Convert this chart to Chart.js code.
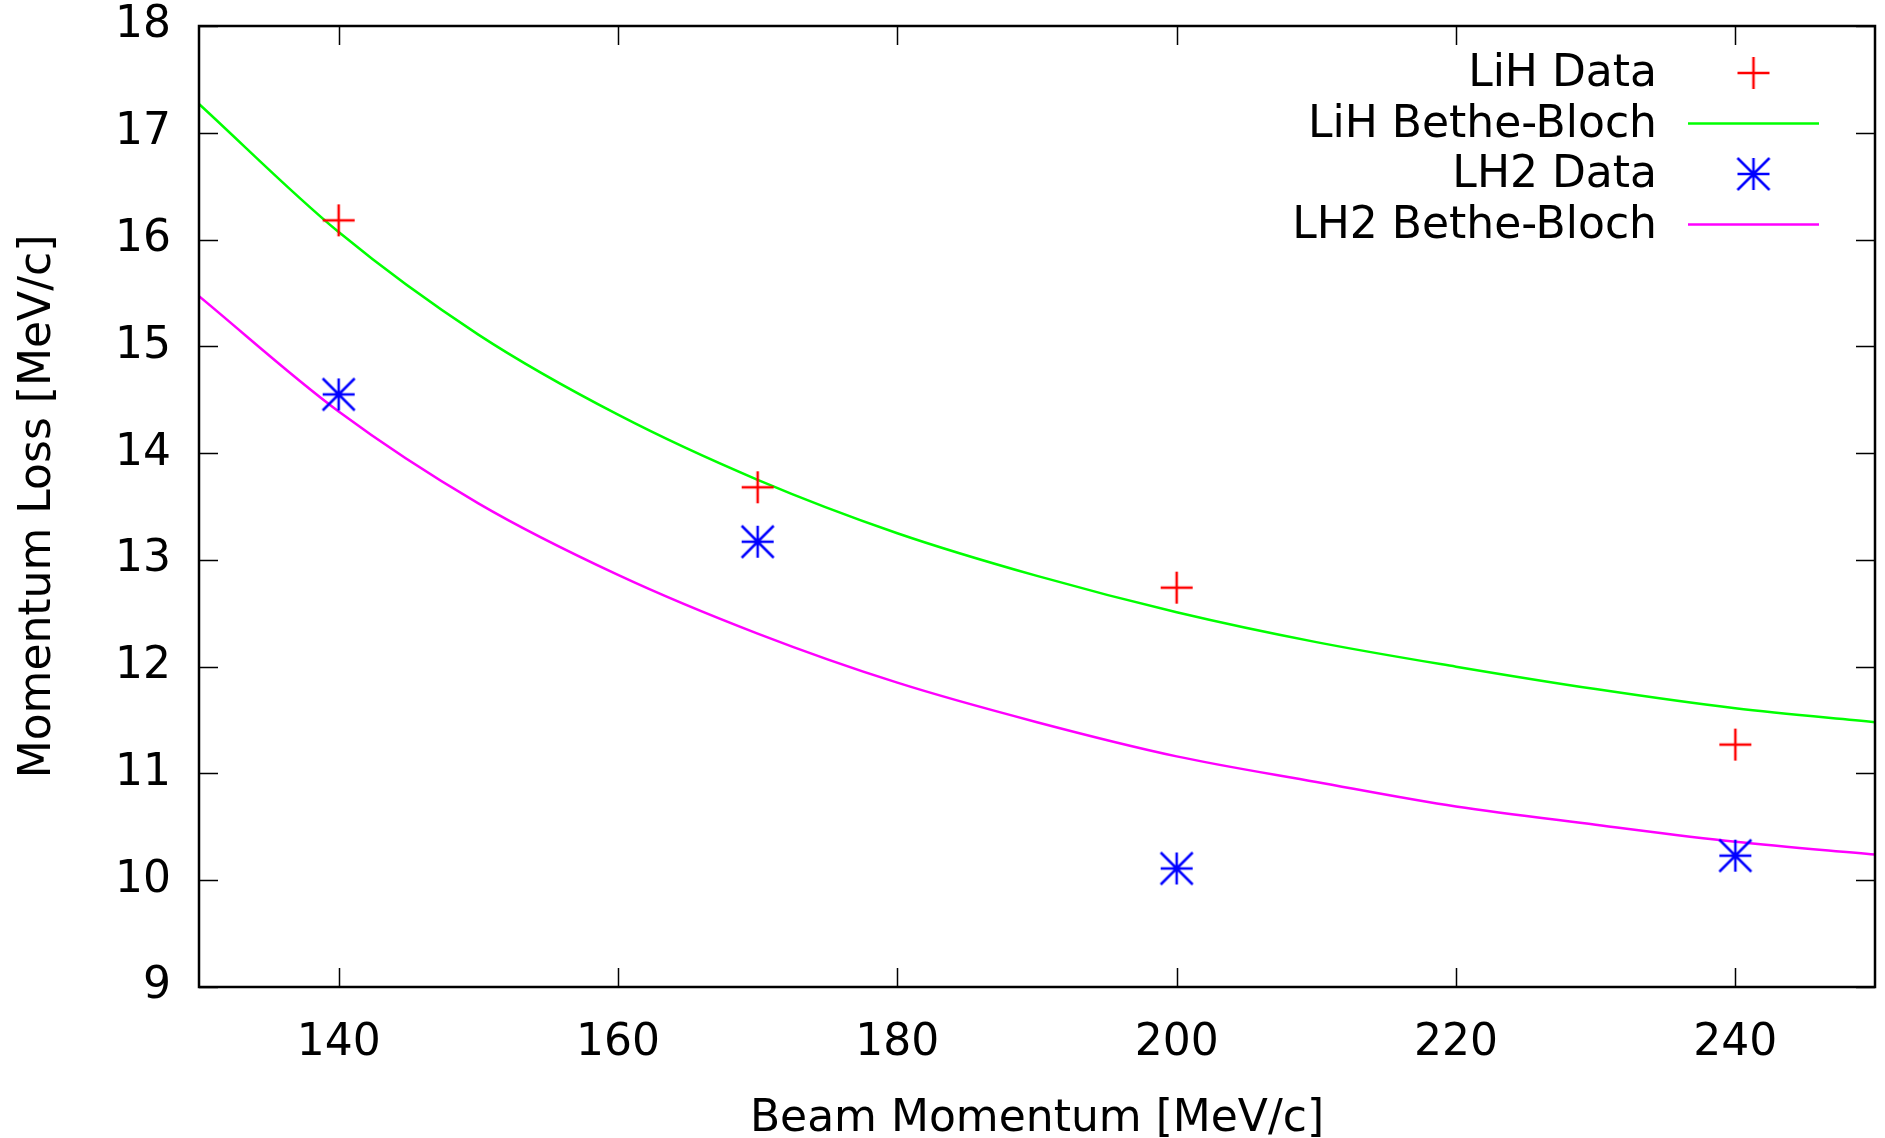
<!DOCTYPE html>
<html>
<head>
<meta charset="utf-8">
<script src="https://cdn.jsdelivr.net/npm/chart.js@4"></script>
<style>
  html, body { margin: 0; padding: 0; background: #fff; }
  #wrap { width: 1885px; height: 1138px; }
</style>
</head>
<body>
<div id="wrap"><canvas id="chart" width="1885" height="1138"></canvas></div>
<script>
// measured points
const beamMomentum = [140, 170, 200, 240];
const lihData = [16.18, 13.68, 12.74, 11.27];
const lh2Data = [14.55, 13.17, 10.11, 10.23];

// Bethe-Bloch curves
const curveMomentum = [130, 140, 150, 160, 170, 180, 190, 200, 210, 220, 230, 240, 250];
const lihCurve = [17.27, 16.07, 15.11, 14.36, 13.75, 13.25, 12.85, 12.51, 12.23, 12.0, 11.79, 11.61, 11.48];
const lh2Curve = [15.47, 14.39, 13.53, 12.86, 12.31, 11.85, 11.48, 11.16, 10.92, 10.69, 10.52, 10.36, 10.24];

const xTicks = [140, 160, 180, 200, 220, 240];
const yTicks = [9, 10, 11, 12, 13, 14, 15, 16, 17, 18];

const seriesLabels = ["LiH Data", "LiH Bethe-Bloch", "LH2 Data", "LH2 Bethe-Bloch"];

const pts = (xs, ys) => xs.map((x, i) => ({ x: x, y: ys[i] }));

// gnuplot style markers
function makeMarker(kind, color) {
  const s = 36, c = document.createElement("canvas");
  c.width = s; c.height = s;
  const g = c.getContext("2d");
  const m = s / 2, a = 16;
  g.strokeStyle = color;
  g.lineWidth = 2.5;
  g.beginPath();
  g.moveTo(m - a, m); g.lineTo(m + a, m);
  g.moveTo(m, m - a); g.lineTo(m, m + a);
  if (kind === "star") {
    g.moveTo(m - a, m - a); g.lineTo(m + a, m + a);
    g.moveTo(m - a, m + a); g.lineTo(m + a, m - a);
  }
  g.stroke();
  return c;
}

Chart.defaults.font.family = "'DejaVu Sans', sans-serif";
Chart.defaults.color = "#000";

const frameAndTicks = {
  id: "frameAndTicks",
  afterDatasetsDraw(chart) {
    const { ctx, chartArea: ca, scales } = chart;
    const len = 19;
    ctx.save();
    ctx.strokeStyle = "#000";
    ctx.lineWidth = 1.5;
    ctx.beginPath();
    xTicks.forEach(v => {
      const px = Math.round(scales.x.getPixelForValue(v)) + 0.5;
      ctx.moveTo(px, ca.bottom); ctx.lineTo(px, ca.bottom - len);
      ctx.moveTo(px, ca.top); ctx.lineTo(px, ca.top + len);
    });
    yTicks.forEach(v => {
      const py = Math.round(scales.y.getPixelForValue(v)) + 0.5;
      ctx.moveTo(ca.left, py); ctx.lineTo(ca.left + len, py);
      ctx.moveTo(ca.right, py); ctx.lineTo(ca.right - len, py);
    });
    ctx.stroke();
    ctx.lineWidth = 2.5;
    ctx.strokeRect(ca.left, ca.top, ca.right - ca.left, ca.bottom - ca.top);
    ctx.restore();
  }
};

// key in the top right, text right-aligned, sample after it
const keyBox = {
  id: "keyBox",
  afterDraw(chart) {
    const { ctx, chartArea: ca } = chart;
    const textRight = ca.right - 218;
    const sampleL = ca.right - 187, sampleR = ca.right - 56;
    ctx.save();
    ctx.font = "44px 'DejaVu Sans'";
    ctx.textAlign = "right";
    ctx.textBaseline = "middle";
    ctx.fillStyle = "#000";
    chart.data.datasets.forEach((ds, i) => {
      const y = ca.top + 47 + i * 50.5;
      ctx.fillText(ds.label, textRight, y + 2);
      if (ds.showLine) {
        ctx.strokeStyle = ds.borderColor;
        ctx.lineWidth = ds.borderWidth;
        ctx.beginPath();
        ctx.moveTo(sampleL, y); ctx.lineTo(sampleR, y);
        ctx.stroke();
      } else {
        const img = ds.pointStyle;
        ctx.drawImage(img, (sampleL + sampleR) / 2 - img.width / 2, y - img.height / 2);
      }
    });
    ctx.restore();
  }
};

// keep the plot frame where the reference has it
const noEdgePad = (s) => {
  s.paddingTop = 0; s.paddingBottom = 0;
  s.paddingLeft = 0; s.paddingRight = 0;
};

new Chart(document.getElementById("chart"), {
  type: "scatter",
  data: {
    datasets: [
      {
        label: seriesLabels[0],
        data: pts(beamMomentum, lihData),
        pointStyle: makeMarker("plus", "#ff0000"),
        pointRadius: 16,
        showLine: false
      },
      {
        label: seriesLabels[1],
        data: pts(curveMomentum, lihCurve),
        borderColor: "#00ff00",
        borderWidth: 2.5,
        pointRadius: 0,
        showLine: true,
        cubicInterpolationMode: "monotone"
      },
      {
        label: seriesLabels[2],
        data: pts(beamMomentum, lh2Data),
        pointStyle: makeMarker("star", "#0000ff"),
        pointRadius: 16,
        showLine: false
      },
      {
        label: seriesLabels[3],
        data: pts(curveMomentum, lh2Curve),
        borderColor: "#ff00ff",
        borderWidth: 2.5,
        pointRadius: 0,
        showLine: true,
        cubicInterpolationMode: "monotone"
      }
    ]
  },
  options: {
    responsive: false,
    animation: false,
    layout: { autoPadding: false, padding: { top: 26, right: 10, left: 0, bottom: 0 } },
    plugins: {
      legend: { display: false },
      tooltip: { enabled: false }
    },
    scales: {
      x: {
        type: "linear",
        min: 130,
        max: 250,
        afterBuildTicks: (s) => { s.ticks = xTicks.map(v => ({ value: v })); },
        afterFit: (s) => { s.height = 151; noEdgePad(s); },
        grid: { display: false },
        border: { display: false },
        ticks: { font: { size: 44 }, padding: 22, maxRotation: 0 },
        title: {
          display: true,
          text: "Beam Momentum [MeV/c]",
          font: { size: 44, lineHeight: 0.85 },
          padding: { top: 0, bottom: 0 }
        }
      },
      y: {
        type: "linear",
        min: 9,
        max: 18,
        afterBuildTicks: (s) => { s.ticks = yTicks.map(v => ({ value: v })); },
        afterFit: (s) => { s.width = 199; noEdgePad(s); },
        grid: { display: false },
        border: { display: false },
        ticks: { font: { size: 44 }, padding: 20 },
        title: {
          display: true,
          text: "Momentum Loss [MeV/c]",
          font: { size: 44, lineHeight: 1.1 },
          padding: { top: 14, bottom: 0 }
        }
      }
    }
  },
  plugins: [frameAndTicks, keyBox]
});
</script>
</body>
</html>
